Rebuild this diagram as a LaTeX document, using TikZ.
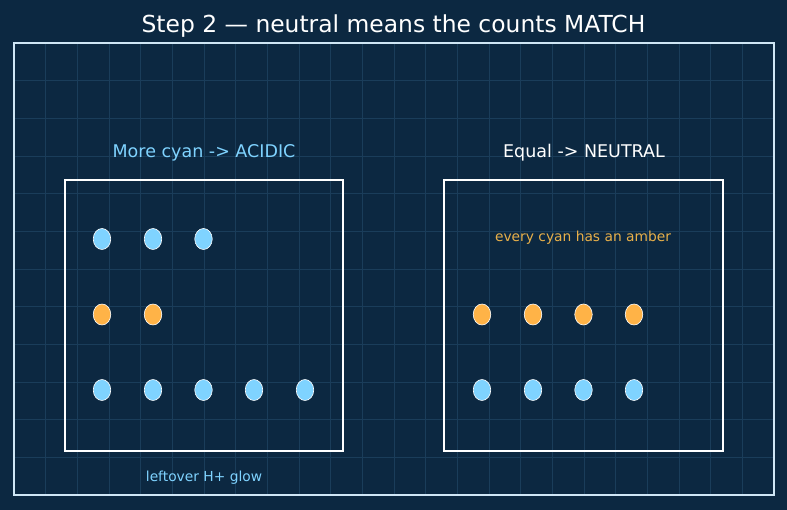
\documentclass[tikz,border=0pt]{standalone}
\usepackage{fontspec}
\usetikzlibrary{shapes.geometric}
\setmainfont{DejaVu Sans}
\definecolor{bg}{HTML}{0C2841}
\definecolor{gridc}{HTML}{1A3D5A}
\definecolor{framec}{HTML}{CFE6F5}
\definecolor{cyanc}{HTML}{7FD3FF}
\definecolor{amberc}{HTML}{FFB347}
\definecolor{ambertext}{HTML}{E8B04A}
\begin{document}
\begin{tikzpicture}[x=1pt,y=-1pt,
  dot/.style={ellipse,draw=white,line width=0.6pt,minimum width=17.5pt,minimum height=21pt,inner sep=0pt},
  cdot/.style={dot,fill=cyanc},
  adot/.style={dot,fill=amberc},
  panel/.style={draw=white,line width=2pt},
  lbl/.style={font=\fontsize{17.5}{20}\selectfont,anchor=center}]
\useasboundingbox (0,0) rectangle (787,510);
\fill[bg] (0,0) rectangle (787,510);
% grid
\foreach \i in {1,...,23} \draw[gridc,line width=0.5pt] ({14+\i*31.6667},43) -- ({14+\i*31.6667},495);
\foreach \j in {1,...,11} \draw[gridc,line width=0.5pt] (14,{43+\j*37.6667}) -- (774,{43+\j*37.6667});
\draw[framec,line width=1.5pt] (14,43) rectangle (774,495);
\node[text=white,font=\fontsize{23.4}{27}\selectfont] (title) at (393.5,26) {Step 2 — neutral means the counts MATCH};
% panels
\node[panel,minimum width=278pt,minimum height=271pt,inner sep=0pt] (left) at (204,315.5) {};
\node[panel,minimum width=279pt,minimum height=271pt,inner sep=0pt] (right) at (583.5,315.5) {};
\node[lbl,text=cyanc] (lt) at (204,153) {More cyan -> ACIDIC};
\node[lbl,text=white] (rt) at (584,153) {Equal -> NEUTRAL};
\node[text=ambertext,font=\fontsize{13.8}{16}\selectfont] (note) at (583,238) {every cyan has an amber};
\node[text=cyanc,font=\fontsize{13.8}{16}\selectfont] (glow) at (204,478) {leftover H+ glow};
% left dots
\node[cdot] (l11) at (102,239) {};
\node[cdot] (l12) at (153,239) {};
\node[cdot] (l13) at (203.5,239) {};
\node[adot] (l21) at (102,314.5) {};
\node[adot] (l22) at (153,314.5) {};
\node[cdot] (l31) at (102,390) {};
\node[cdot] (l32) at (153,390) {};
\node[cdot] (l33) at (203.5,390) {};
\node[cdot] (l34) at (254,390) {};
\node[cdot] (l35) at (305,390) {};
% right dots
\node[adot] (r21) at (482,314.5) {};
\node[adot] (r22) at (533,314.5) {};
\node[adot] (r23) at (583.5,314.5) {};
\node[adot] (r24) at (634,314.5) {};
\node[cdot] (r31) at (482,390) {};
\node[cdot] (r32) at (533,390) {};
\node[cdot] (r33) at (583.5,390) {};
\node[cdot] (r34) at (634,390) {};
\end{tikzpicture}
\end{document}
